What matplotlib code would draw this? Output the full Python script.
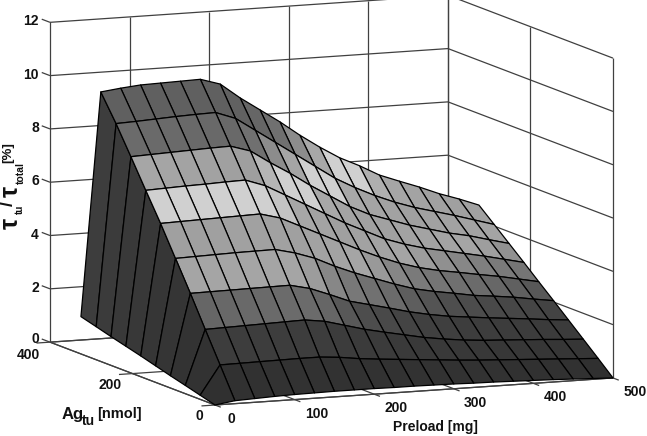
import numpy as np
import matplotlib
matplotlib.use("Agg")
import matplotlib.pyplot as plt
from mpl_toolkits.mplot3d import proj3d

plt.rcParams['font.family'] = ['Liberation Sans', 'DejaVu Sans']

preload = [0, 25, 50, 75, 100, 125, 150, 175, 200, 225, 250, 275, 300, 325, 350, 375, 400, 425, 450, 475, 500]
ag_tu = [0, 36, 72, 108, 144, 180, 216, 252, 288, 325]

# one row per ag_tu value
ratio_0 = [0, .11, .14, .17, .19, .2, .21, .21, .21, .2, .2, .19, .18, .16, .15, .13, .11, .09, .06, .03, 0]
ratio_1 = [.155, 1.24, 1.25, 1.26, 1.27, 1.28, 1.28, 1.22, 1.12, 1.05, .99, .93, .87, .81, .76, .72, .68, .64, .6, .56, .52]
ratio_2 = [.31, 2.36, 2.38, 2.4, 2.42, 2.44, 2.46, 2.36, 2.16, 1.96, 1.8, 1.65, 1.5, 1.39, 1.3, 1.24, 1.2, 1.16, 1.12, 1.07, 1.03]
ratio_3 = [.46, 3.5, 3.51, 3.52, 3.53, 3.54, 3.55, 3.38, 3.1, 2.8, 2.62, 2.44, 2.25, 2.1, 1.98, 1.9, 1.82, 1.75, 1.68, 1.6, 1.54]
ratio_4 = [.62, 4.6, 4.62, 4.64, 4.66, 4.67, 4.68, 4.5, 4.25, 3.9, 3.6, 3.34, 3.08, 2.85, 2.7, 2.58, 2.45, 2.37, 2.28, 2.16, 2.05]
ratio_5 = [.78, 5.7, 5.72, 5.74, 5.76, 5.78, 5.8, 5.6, 5.25, 4.9, 4.55, 4.2, 3.88, 3.6, 3.38, 3.22, 3.1, 2.97, 2.85, 2.7, 2.55]
ratio_6 = [.93, 6.73, 6.76, 6.79, 6.81, 6.84, 6.86, 6.6, 6.2, 5.8, 5.4, 5.0, 4.65, 4.3, 4.05, 3.85, 3.7, 3.55, 3.4, 3.23, 3.06]
ratio_7 = [1.08, 7.78, 7.81, 7.84, 7.87, 7.9, 7.92, 7.69, 7.2, 6.75, 6.25, 5.8, 5.35, 5.0, 4.75, 4.5, 4.3, 4.1, 3.95, 3.75, 3.56]
ratio_8 = [1.24, 8.81, 8.84, 8.88, 8.92, 8.95, 8.97, 8.7, 8.2, 7.7, 7.2, 6.7, 6.2, 5.8, 5.45, 5.15, 4.9, 4.7, 4.5, 4.28, 4.06]
ratio_9 = [1.4, 9.78, 9.87, 9.94, 9.96, 9.98, 10.0, 9.77, 9.2, 8.7, 8.2, 7.65, 7.15, 6.7, 6.35, 5.95, 5.67, 5.4, 5.1, 4.85, 4.57]

x_ticks = [0, 100, 200, 300, 400, 500]
y_ticks = [0, 200, 400]
z_ticks = [0, 2, 4, 6, 8, 10, 12]

# grey of a face against the height of its first corner
cmap_z = [0, 1.2, 1.5, 2.05, 2.4, 3, 3.5, 4.6, 5.4, 5.7, 6.4, 6.7, 7.8, 8.8]
cmap_grey = [0x30, 0x3c, 0x40, 0x50, 0x69, 0x80, 0xa5, 0xa0, 0xa8, 0xd0, 0xd0, 0xa8, 0x6a, 0x60]

Z = np.array([ratio_0, ratio_1, ratio_2, ratio_3, ratio_4, ratio_5, ratio_6, ratio_7, ratio_8, ratio_9])
X, Y = np.meshgrid(preload, ag_tu)

face = np.zeros((Z.shape[0] - 1, Z.shape[1] - 1, 4))
for r in range(face.shape[0]):
    for c in range(face.shape[1]):
        g = np.interp(Z[r, c], cmap_z, cmap_grey) / 255
        face[r, c] = (g, g, g, 1)

fig = plt.figure(figsize=(6.47, 4.36), dpi=100)
ax = fig.add_axes([0, 0, 1, 1], projection='3d', computed_zorder=False)
ax.set_proj_type('ortho')
ax.view_init(elev=9.26, azim=-112.9)
ax.set_box_aspect((432, 424, 324))
ax.set_xlim(0, 500, view_margin=0)
ax.set_ylim(0, 400, view_margin=0)
ax.set_zlim(0, 12, view_margin=0)
ax.set_axis_off()


# place the box so that its floor corners land where they are in the reference
def project(x, y, z):
    px, py, _ = proj3d.proj_transform(x, y, z, ax.get_proj())
    return px, py


x0, y0 = project(0, 0, 0)
x1, y1 = project(500, 0, 0)
scale = (613 - 215) / (x1 - x0)
side = 0.185 * scale
left = 215 - (x0 + 0.095) * scale
bottom = (436 - 405) - (y0 + 0.095) * scale
ax.set_position([left / 647, bottom / 436, side / 647, side / 436])


def line(xs, ys, zs, color='#404040', lw=0.9):
    ax.plot(xs, ys, zs, color=color, lw=lw, zorder=1, clip_on=False, solid_capstyle='butt')


# back walls and floor
for t in x_ticks:
    line([t, t], [400, 400], [0, 12])
    line([t, t], [0, 400], [0, 0])
    line([t, t], [0, -14], [0, 0])
for t in y_ticks:
    line([500, 500], [t, t], [0, 12])
    line([0, 500], [t, t], [0, 0])
    line([0, -17], [t, t], [0, 0])
for t in z_ticks:
    line([0, 500], [400, 400], [t, t])
    line([500, 500], [0, 400], [t, t])
    line([0, 0], [400, 420], [t, t])
line([0, 0], [0, 400], [0, 0])
line([0, 500], [0, 0], [0, 0])

surf = ax.plot_surface(X, Y, Z, facecolors=face, shade=False, rstride=1, cstride=1,
                       edgecolor='#000000', linewidth=0.9, antialiased=True, zorder=3)
surf.set_clip_on(False)

font = dict(fontsize=10, fontweight='bold', color='#111111')


def put(x, y, z, dx, dy, s, ha='center'):
    px, py = project(x, y, z)
    ax.annotate(s, xy=(px, py), xycoords='data', xytext=(dx, dy), textcoords='offset pixels',
                ha=ha, va='center', annotation_clip=False, **font)


for t in z_ticks:
    put(0, 400, t, -11, 1 if t else 3, str(t), ha='right')
for t in x_ticks:
    put(t, 0, 0, 22 if t else 16, -14, str(t))
for t in y_ticks:
    put(0, t, 0, -22 if t else -16, -13 if t == 400 else -11, str(t))

fig.text(435 / 647, 1 - 427 / 436, 'Preload [mg]', ha='center', va='center', fontsize=10, fontweight='bold', color='#111111')
fig.text(62 / 647, 1 - 414 / 436, 'Ag', ha='left', va='center', fontsize=12, fontweight='bold', color='#111111')
fig.text(82 / 647, 1 - 421 / 436, 'tu', ha='left', va='center', fontsize=10, fontweight='bold', color='#111111')
fig.text(97 / 647, 1 - 414 / 436, '[nmol]', ha='left', va='center', fontsize=10.5, fontweight='bold', color='#111111')

ylab = dict(rotation=90, ha='center', va='center', color='#111111', fontweight='bold')
fig.text(11 / 647, 1 - 223 / 436, 'τ', fontsize=18, **ylab)
fig.text(20 / 647, 1 - 209 / 436, 'tu', fontsize=7, **ylab)
fig.text(8 / 647, 1 - 203 / 436, '/', fontsize=13, **ylab)
fig.text(11 / 647, 1 - 191 / 436, 'τ', fontsize=18, **ylab)
fig.text(21 / 647, 1 - 173 / 436, 'total', fontsize=7.5, **ylab)
fig.text(8 / 647, 1 - 153 / 436, '[%]', fontsize=9.5, **ylab)

fig.savefig('out.png', dpi=100)
